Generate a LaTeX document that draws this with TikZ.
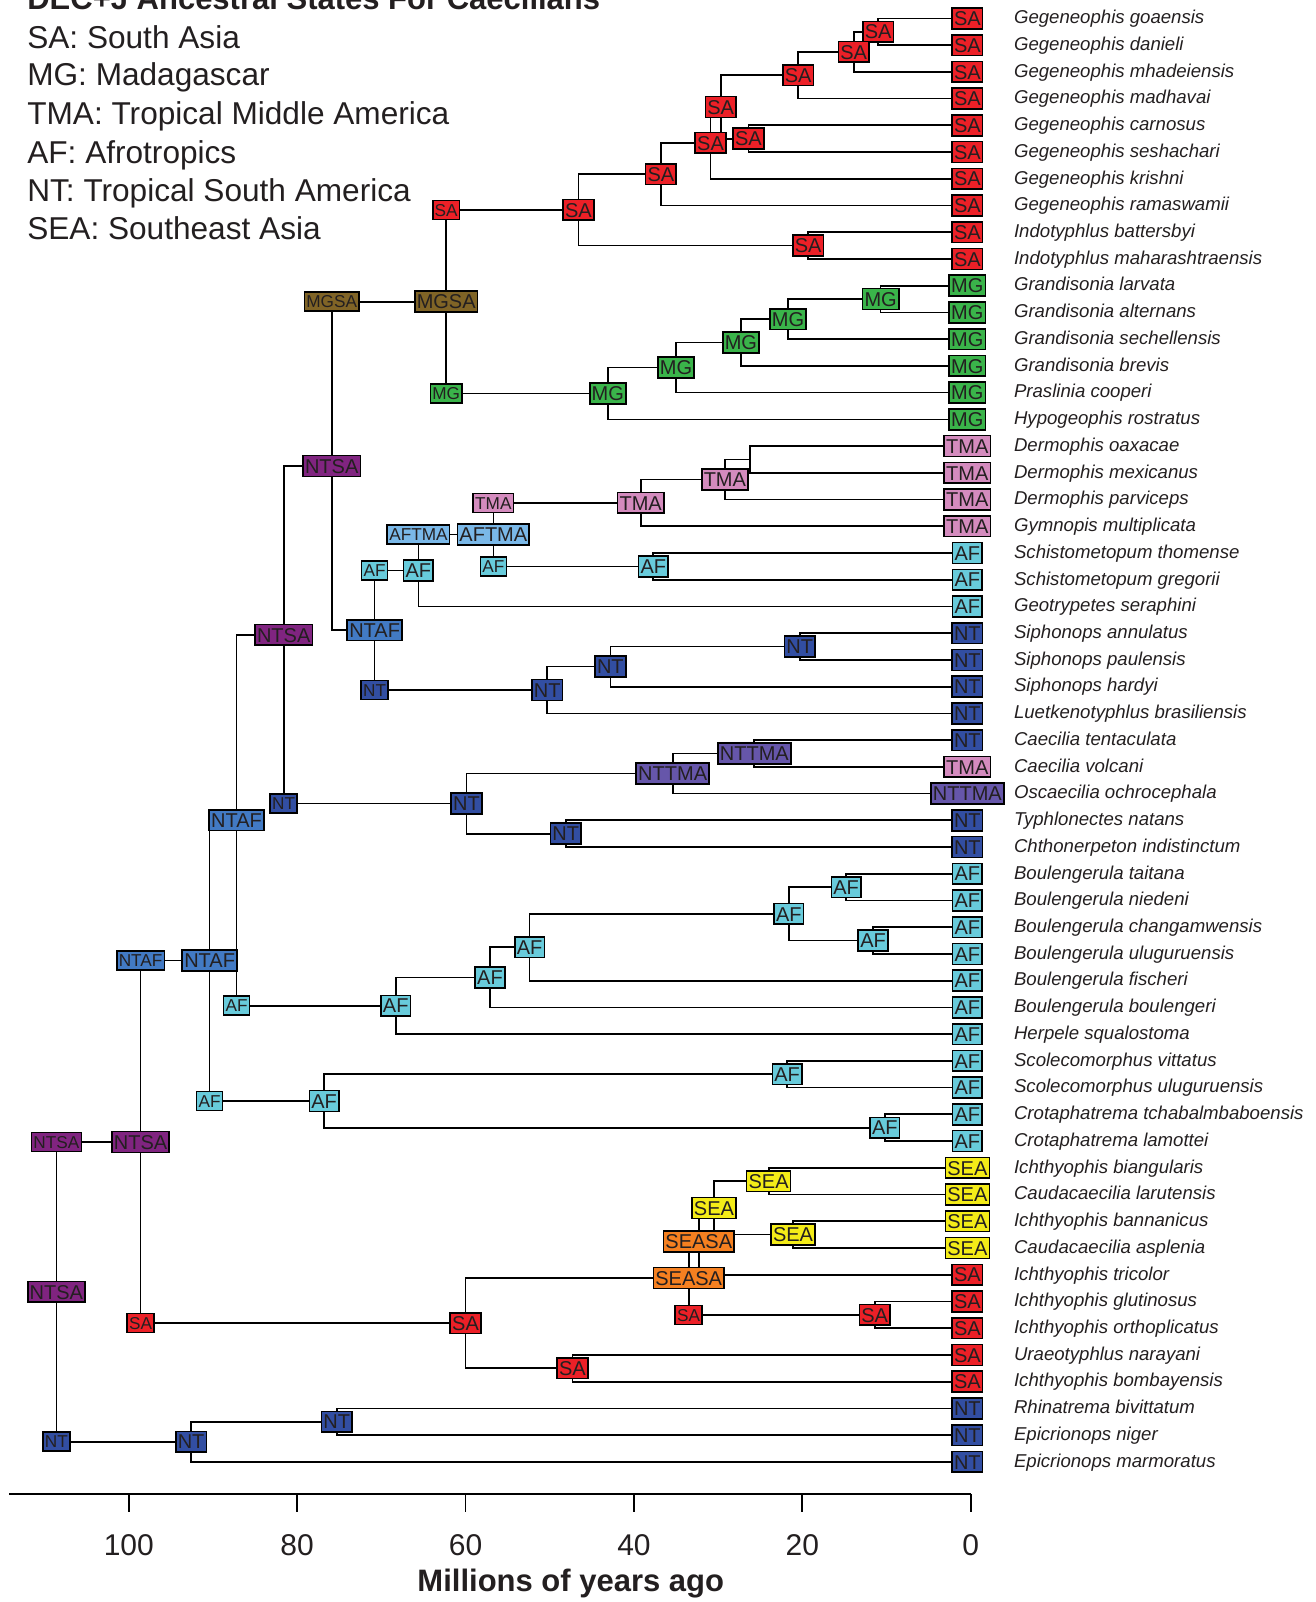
\documentclass[tikz,border=0pt]{standalone}
\usepackage{fontspec}
\setmainfont{Liberation Sans}
\usetikzlibrary{backgrounds}

\definecolor{cSA}{RGB}{236,32,39}
\definecolor{cMG}{RGB}{58,180,74}
\definecolor{cTMA}{RGB}{212,139,190}
\definecolor{cAF}{RGB}{104,203,219}
\definecolor{cNT}{RGB}{50,78,162}
\definecolor{cSEA}{RGB}{244,236,24}
\definecolor{cMGSA}{RGB}{128,100,38}
\definecolor{cNTSA}{RGB}{128,36,128}
\definecolor{cNTAF}{RGB}{66,122,196}
\definecolor{cAFTMA}{RGB}{122,184,232}
\definecolor{cNTTMA}{RGB}{102,86,170}
\definecolor{cSEASA}{RGB}{245,128,32}
\definecolor{ink}{RGB}{35,31,32}

\tikzset{
  branch/.style={line width=0.85pt},
  nodebox/.style={draw=black, line width=0.8pt, text=ink, font=\fontsize{10}{10}\selectfont,
    text height=7.2pt, text depth=0pt, inner xsep=1pt, inner ysep=1.6pt},
  splitbox/.style={nodebox, font=\fontsize{8.6}{8.6}\selectfont, text height=6.2pt, inner ysep=1.65pt},
  taxon/.style={anchor=mid west, inner sep=0pt, text=ink, font=\fontsize{9.3}{9.3}\itshape},
  legend/.style={anchor=base west, inner sep=0pt, text=ink, font=\fontsize{15.8}{15.8}\selectfont},
}
\newcommand{\anc}[4]{\node[nodebox, fill=c#4] (#1) at (#2,#3) {#4};}
\newcommand{\cornerbox}[4]{\node[splitbox, fill=c#4] (#1) at (#2,#3) {#4};}
\newcommand{\tipbox}[3]{\node[nodebox, fill=c#2] (t#1) at (0.4,#1) {#2};
  \node[taxon] (s#1) at (-5.1,#1) {#3};}
\newcommand{\fork}[3]{\draw[branch] (#2.center) -| (#1.center) |- (#3.center);}

\begin{document}
\begin{tikzpicture}[x={(-4.2095pt,0)}, y={(0,-13.365pt)}]
\useasboundingbox (115.30,0.3116) rectangle (-41.01,60.244);

% title and legend
\node[legend, font=\fontsize{15.5}{15.5}\bfseries] (title) at (112.1,0.686) {DEC+J Ancestral States For Caecilians};
\node[legend] (lgSA) at (112.1,2.119) {SA: South Asia};
\node[legend] (lgMG) at (112.1,3.529) {MG: Madagascar};
\node[legend] (lgTMA) at (112.1,4.988) {TMA: Tropical Middle America};
\node[legend] (lgAF) at (112.1,6.421) {AF: Afrotropics};
\node[legend] (lgNT) at (112.1,7.857) {NT: Tropical South America};
\node[legend] (lgSEA) at (112.1,9.290) {SEA: Southeast Asia};

% tips
\tipbox{1}{SA}{Gegeneophis goaensis}
\tipbox{2}{SA}{Gegeneophis danieli}
\tipbox{3}{SA}{Gegeneophis mhadeiensis}
\tipbox{4}{SA}{Gegeneophis madhavai}
\tipbox{5}{SA}{Gegeneophis carnosus}
\tipbox{6}{SA}{Gegeneophis seshachari}
\tipbox{7}{SA}{Gegeneophis krishni}
\tipbox{8}{SA}{Gegeneophis ramaswamii}
\tipbox{9}{SA}{Indotyphlus battersbyi}
\tipbox{10}{SA}{Indotyphlus maharashtraensis}
\tipbox{11}{MG}{Grandisonia larvata}
\tipbox{12}{MG}{Grandisonia alternans}
\tipbox{13}{MG}{Grandisonia sechellensis}
\tipbox{14}{MG}{Grandisonia brevis}
\tipbox{15}{MG}{Praslinia cooperi}
\tipbox{16}{MG}{Hypogeophis rostratus}
\tipbox{17}{TMA}{Dermophis oaxacae}
\tipbox{18}{TMA}{Dermophis mexicanus}
\tipbox{19}{TMA}{Dermophis parviceps}
\tipbox{20}{TMA}{Gymnopis multiplicata}
\tipbox{21}{AF}{Schistometopum thomense}
\tipbox{22}{AF}{Schistometopum gregorii}
\tipbox{23}{AF}{Geotrypetes seraphini}
\tipbox{24}{NT}{Siphonops annulatus}
\tipbox{25}{NT}{Siphonops paulensis}
\tipbox{26}{NT}{Siphonops hardyi}
\tipbox{27}{NT}{Luetkenotyphlus brasiliensis}
\tipbox{28}{NT}{Caecilia tentaculata}
\tipbox{29}{TMA}{Caecilia volcani}
\tipbox{30}{NTTMA}{Oscaecilia ochrocephala}
\tipbox{31}{NT}{Typhlonectes natans}
\tipbox{32}{NT}{Chthonerpeton indistinctum}
\tipbox{33}{AF}{Boulengerula taitana}
\tipbox{34}{AF}{Boulengerula niedeni}
\tipbox{35}{AF}{Boulengerula changamwensis}
\tipbox{36}{AF}{Boulengerula uluguruensis}
\tipbox{37}{AF}{Boulengerula fischeri}
\tipbox{38}{AF}{Boulengerula boulengeri}
\tipbox{39}{AF}{Herpele squalostoma}
\tipbox{40}{AF}{Scolecomorphus vittatus}
\tipbox{41}{AF}{Scolecomorphus uluguruensis}
\tipbox{42}{AF}{Crotaphatrema tchabalmbaboensis}
\tipbox{43}{AF}{Crotaphatrema lamottei}
\tipbox{44}{SEA}{Ichthyophis biangularis}
\tipbox{45}{SEA}{Caudacaecilia larutensis}
\tipbox{46}{SEA}{Ichthyophis bannanicus}
\tipbox{47}{SEA}{Caudacaecilia asplenia}
\tipbox{48}{SA}{Ichthyophis tricolor}
\tipbox{49}{SA}{Ichthyophis glutinosus}
\tipbox{50}{SA}{Ichthyophis orthoplicatus}
\tipbox{51}{SA}{Uraeotyphlus narayani}
\tipbox{52}{SA}{Ichthyophis bombayensis}
\tipbox{53}{NT}{Rhinatrema bivittatum}
\tipbox{54}{NT}{Epicrionops niger}
\tipbox{55}{NT}{Epicrionops marmoratus}

% Gegeneophis + Indotyphlus
\anc{A}{11.0}{1.5}{SA}
\anc{B}{13.9}{2.25}{SA}
\anc{C}{20.5}{3.125}{SA}
\anc{D}{26.4}{5.5}{SA}
\anc{E}{29.7}{4.3125}{SA}
\anc{F}{30.9}{5.65625}{SA}
\anc{G}{36.8}{6.828}{SA}
\anc{H}{19.3}{9.5}{SA}
\anc{I}{46.6}{8.164}{SA}
% Madagascar
\anc{M1}{10.7}{11.5}{MG}
\anc{M2}{21.7}{12.25}{MG}
\anc{M3}{27.3}{13.125}{MG}
\anc{M4}{35.0}{14.0625}{MG}
\anc{M5}{43.1}{15.031}{MG}
\anc{J}{62.3}{11.598}{MGSA}
% Dermophis, Schistometopum
\coordinate (T1) at (26.2,17.5);
\anc{T2}{29.2}{18.25}{TMA}
\anc{T3}{39.2}{19.125}{TMA}
\anc{S1}{37.7}{21.5}{AF}
\anc{N1}{56.7}{20.3125}{AFTMA}
\anc{S2}{65.6}{21.656}{AF}
% Siphonops
\anc{Q1}{20.3}{24.5}{NT}
\anc{Q2}{42.8}{25.25}{NT}
\anc{Q3}{50.3}{26.125}{NT}
\anc{P}{70.8}{23.891}{NTAF}
\anc{K}{75.9}{17.744}{NTSA}
% Caecilia, Typhlonectes
\anc{V1}{25.7}{28.5}{NTTMA}
\anc{V2}{35.4}{29.25}{NTTMA}
\anc{W}{48.1}{31.5}{NT}
\anc{R}{59.9}{30.375}{NT}
\anc{L}{81.6}{24.060}{NTSA}
% Boulengerula, Herpele
\anc{B1}{14.8}{33.5}{AF}
\anc{B2}{11.6}{35.5}{AF}
\anc{B3}{21.6}{34.5}{AF}
\anc{B4}{52.4}{35.75}{AF}
\anc{B5}{57.1}{36.875}{AF}
\anc{X}{68.3}{37.9375}{AF}
\anc{Y}{87.2}{30.998}{NTAF}
% Scolecomorphus, Crotaphatrema
\anc{U1}{21.8}{40.5}{AF}
\anc{U2}{10.2}{42.5}{AF}
\anc{U}{76.8}{41.5}{AF}
\anc{Z}{90.4}{36.249}{NTAF}
% Ichthyophis
\anc{I1}{24.0}{44.5}{SEA}
\anc{I2}{21.1}{46.5}{SEA}
\anc{I3}{30.5}{45.5}{SEA}
\anc{I4}{32.3}{46.75}{SEASA}
\anc{I6}{11.4}{49.5}{SA}
\anc{I5}{33.5}{48.125}{SEASA}
\anc{UR}{47.3}{51.5}{SA}
\anc{RR}{60.0}{49.8125}{SA}
\anc{AA}{98.6}{43.031}{NTSA}
% Rhinatrema, Epicrionops
\anc{RN1}{75.3}{53.5}{NT}
\anc{RN2}{92.6}{54.25}{NT}
\anc{root}{108.6}{48.64}{NTSA}

% corner states
\cornerbox{cJ1}{62.3}{8.164}{SA}
\cornerbox{cJ2}{62.3}{15.031}{MG}
\cornerbox{cK1}{75.9}{11.598}{MGSA}
\cornerbox{cN1}{56.7}{19.125}{TMA}
\cornerbox{cN2}{56.7}{21.5}{AF}
\cornerbox{cS1}{65.6}{20.3125}{AFTMA}
\cornerbox{cP1}{70.8}{21.656}{AF}
\cornerbox{cP2}{70.8}{26.125}{NT}
\cornerbox{cL2}{81.6}{30.375}{NT}
\cornerbox{cY2}{87.2}{37.9375}{AF}
\cornerbox{cZ2}{90.4}{41.5}{AF}
\cornerbox{cA1}{98.6}{36.249}{NTAF}
\cornerbox{cA2}{98.6}{49.8125}{SA}
\cornerbox{cR1}{108.6}{43.031}{NTSA}
\cornerbox{cR2}{108.6}{54.25}{NT}
\cornerbox{cI2}{33.5}{49.5}{SA}

% branches
\begin{pgfonlayer}{background}
\fork{A}{t1}{t2}
\fork{B}{A}{t3}
\fork{C}{B}{t4}
\fork{D}{t5}{t6}
\fork{E}{C}{D}
\fork{F}{E}{t7}
\fork{G}{F}{t8}
\fork{H}{t9}{t10}
\fork{I}{G}{H}
\fork{M1}{t11}{t12}
\fork{M2}{M1}{t13}
\fork{M3}{M2}{t14}
\fork{M4}{M3}{t15}
\fork{M5}{M4}{t16}
\fork{J}{I}{M5}
\fork{T1}{t17}{t18}
\fork{T2}{T1}{t19}
\fork{T3}{T2}{t20}
\fork{S1}{t21}{t22}
\fork{N1}{T3}{S1}
\fork{S2}{N1}{t23}
\fork{Q1}{t24}{t25}
\fork{Q2}{Q1}{t26}
\fork{Q3}{Q2}{t27}
\fork{P}{S2}{Q3}
\fork{K}{J}{P}
\fork{V1}{t28}{t29}
\fork{V2}{V1}{t30}
\fork{W}{t31}{t32}
\fork{R}{V2}{W}
\fork{L}{K}{R}
\fork{B1}{t33}{t34}
\fork{B2}{t35}{t36}
\fork{B3}{B1}{B2}
\fork{B4}{B3}{t37}
\fork{B5}{B4}{t38}
\fork{X}{B5}{t39}
\fork{Y}{L}{X}
\fork{U1}{t40}{t41}
\fork{U2}{t42}{t43}
\fork{U}{U1}{U2}
\fork{Z}{Y}{U}
\fork{I1}{t44}{t45}
\fork{I2}{t46}{t47}
\fork{I3}{I1}{I2}
\fork{I4}{I3}{t48}
\fork{I6}{t49}{t50}
\fork{I5}{I4}{I6}
\fork{UR}{t51}{t52}
\fork{RR}{I5}{UR}
\fork{AA}{Z}{RR}
\fork{RN1}{t53}{t54}
\fork{RN2}{RN1}{t55}
\fork{root}{AA}{RN2}
\end{pgfonlayer}

% time axis
\coordinate (axL) at (114.2,56.2);
\coordinate (axR) at (0,56.2);
\draw[branch] (axL) -- (axR);
\foreach \t in {0,20,...,100}{
  \draw[branch] (\t,56.2) -- (\t,56.87);
  \node[anchor=base, text=ink, font=\fontsize{15}{15}\selectfont] (tick\t) at (\t,58.52) {\t};
}
\node[anchor=base, text=ink, font=\fontsize{15.5}{15.5}\bfseries] (axtitle) at (47.5,59.86) {Millions of years ago};
\end{tikzpicture}
\end{document}
